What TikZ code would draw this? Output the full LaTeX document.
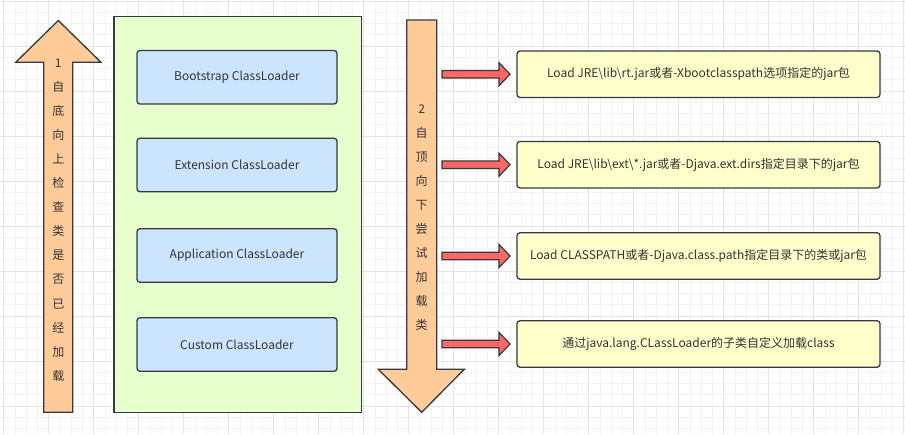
\documentclass[tikz,border=0pt]{standalone}
\usepackage{fontspec}
\setmainfont{Noto Sans CJK SC}
\usetikzlibrary{calc}
\definecolor{strokec}{HTML}{36393D}
\definecolor{textc}{HTML}{333333}
\definecolor{gridminor}{HTML}{F2F2F2}
\definecolor{gridmajor}{HTML}{E3E3E3}
\definecolor{orangef}{HTML}{FFCC99}
\definecolor{redf}{HTML}{FF6666}
\definecolor{greenf}{HTML}{E6FFCC}
\definecolor{bluef}{HTML}{CCE5FF}
\definecolor{yellowf}{HTML}{FFFFCC}
\begin{document}
\begin{tikzpicture}[x=1pt,y=-1pt,
  lbl/.style={text=textc,font=\fontsize{12}{14}\selectfont},
  shapeline/.style={draw=strokec,line width=1.3pt,line join=miter},
  loader/.style={shapeline,fill=bluef,rounded corners=3pt,minimum width=200pt,minimum height=53.5pt,lbl},
  loadbox/.style={shapeline,fill=yellowf,rounded corners=3pt,minimum width=363pt,minimum height=46.5pt,lbl},
  col/.style={text=textc,align=center,inner sep=0pt},
  redarrow/.style={shapeline,fill=redf,line width=1.2pt}]
\useasboundingbox (0,0) rectangle (905,434);
\fill[white] (0,0) rectangle (905,434);
% grid
\foreach \i in {0,...,80} {
  \pgfmathtruncatemacro{\m}{mod(\i,4)}
  \ifnum\m=0 \draw[gridmajor,line width=0.8pt] ({3.7+11.25*\i},0) -- ({3.7+11.25*\i},434);
  \else \draw[gridminor,line width=0.8pt] ({3.7+11.25*\i},0) -- ({3.7+11.25*\i},434); \fi
}
\foreach \i in {0,...,38} {
  \pgfmathtruncatemacro{\m}{mod(\i,4)}
  \ifnum\m=0 \draw[gridmajor,line width=0.8pt] (0,{1+11.25*\i}) -- (905,{1+11.25*\i});
  \else \draw[gridminor,line width=0.8pt] (0,{1+11.25*\i}) -- (905,{1+11.25*\i}); \fi
}
% left up arrow
\draw[shapeline,fill=orangef] (58.3,20.5) -- (101,62.3) -- (72.7,62.3) -- (72.7,412.3) -- (43.7,412.3) -- (43.7,62.3) -- (15.7,62.3) -- cycle;
\node[col,font=\fontsize{12}{24.08}\selectfont] (upcol) at (58.3,220) {1\\自\\底\\向\\上\\检\\查\\类\\是\\否\\已\\经\\加\\载};
% green container
\node[shapeline,fill=greenf,minimum width=247.5pt,minimum height=396pt] (container) at (237.8,214.2) {};
% loaders
\node[loader] (boot) at (237,77.3) {Bootstrap ClassLoader};
\node[loader] (ext) at (237,165) {Extension ClassLoader};
\node[loader] (app) at (237,255.5) {Application ClassLoader};
\node[loader] (cust) at (237,344.5) {Custom ClassLoader};
% down arrow
\draw[shapeline,fill=orangef] (406.7,20) -- (436.7,20) -- (436.7,369.3) -- (464.3,369.3) -- (421.7,412.3) -- (378.3,369.3) -- (406.7,369.3) -- cycle;
\node[col,font=\fontsize{12}{24}\selectfont] (downcol) at (421.7,218) {2\\自\\顶\\向\\下\\尝\\试\\加\\载\\类};
% yellow boxes
\node[loadbox] (l1) at (698.5,74.2) {Load JRE\textbackslash lib\textbackslash rt.jar或者-Xbootclasspath选项指定的jar包};
\node[loadbox] (l2) at (698.5,164.7) {Load JRE\textbackslash lib\textbackslash ext\textbackslash *.jar或者-Djava.ext.dirs指定目录下的jar包};
\node[loadbox] (l3) at (698.5,256) {Load CLASSPATH或者-Djava.class.path指定目录下的类或jar包};
\node[loadbox] (l4) at (698.5,344) {通过java.lang.CLassLoader的子类自定义加载class};
% red arrows
\foreach \b in {l1,l2,l3,l4} {
  \coordinate (tip\b) at ($(\b.west)+(-6.3,0)$);
  \draw[redarrow] (tip\b) -- ++(-11,-11.5) -- ++(0,7.7) -- ++(-57,0) -- ++(0,7.6) -- ++(57,0) -- ++(0,7.7) -- cycle;
}
\end{tikzpicture}
\end{document}
